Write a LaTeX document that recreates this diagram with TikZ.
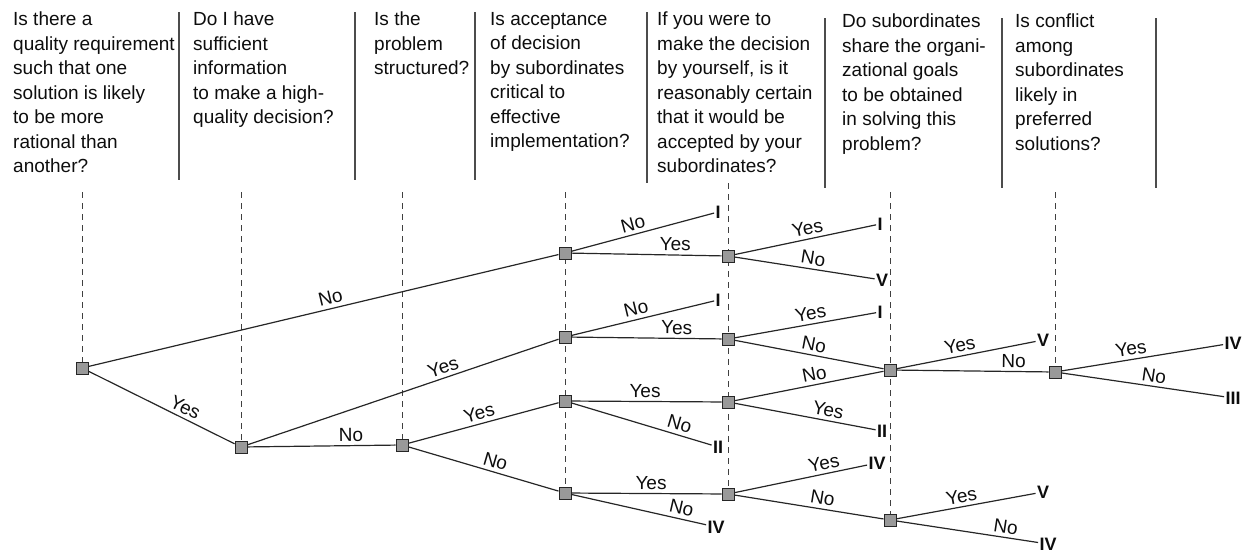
\documentclass[tikz,border=0pt]{standalone}
\usepackage{fontspec}
\setmainfont{Liberation Sans}
\usetikzlibrary{backgrounds}
\begin{document}
\begin{tikzpicture}[x=1pt,y=-1pt,
  dbox/.style={draw=black!85, fill=black!40, minimum size=12pt, inner sep=0pt, line width=1pt},
  leafnum/.style={font=\fontsize{18}{20}\selectfont\bfseries, inner sep=1.2pt, text=black!95},
  elab/.style={font=\fontsize{19}{20}\selectfont, sloped, above=1pt, inner sep=2.5pt, text=black!95},
  con/.style={draw=black!85, line width=1.2pt},
  vguide/.style={draw=black!75, line width=1pt, dash pattern=on 6pt off 5pt},
  colsep/.style={draw=black!70, line width=1.1pt},
  qtext/.style={anchor=north west, align=left, inner sep=0pt, font=\fontsize{19}{24.5}\selectfont, text=black!95}]
\useasboundingbox (0,0) rectangle (1244,554);

% header questions
\node[qtext] (q1) at (13,12) {Is there a\\quality requirement\\such that one\\solution is likely\\to be more\\rational than\\another?};
\node[qtext] (q2) at (193,12) {Do I have\\sufficient\\information\\to make a high-\\quality decision?};
\node[qtext] (q3) at (374,12) {Is the\\problem\\structured?};
\node[qtext] (q4) at (490,12) {Is acceptance\\of decision\\by subordinates\\critical to\\effective\\implementation?};
\node[qtext] (q5) at (657,12) {If you were to\\make the decision\\by yourself, is it\\reasonably certain\\that it would be\\accepted by your\\subordinates?};
\node[qtext] (q6) at (842,14) {Do subordinates\\share the organi-\\zational goals\\to be obtained\\in solving this\\problem?};
\node[qtext] (q7) at (1015,14) {Is conflict\\among\\subordinates\\likely in\\preferred\\solutions?};

% column separators
\draw[colsep] (179,12) -- (179,180);
\draw[colsep] (355,12) -- (355,180);
\draw[colsep] (475,12) -- (475,180);
\draw[colsep] (647,12) -- (647,183);
\draw[colsep] (825,18) -- (825,188);
\draw[colsep] (1002,18) -- (1002,188);
\draw[colsep] (1156,18) -- (1156,188);

% decision nodes
\node[dbox] (A) at (82,368) {};
\node[dbox] (B) at (241,447) {};
\node[dbox] (C) at (402,445) {};
\node[dbox] (D1) at (565,253) {};
\node[dbox] (D2) at (565,337) {};
\node[dbox] (D3) at (565,401) {};
\node[dbox] (D4) at (565,493) {};
\node[dbox] (E1) at (728,256) {};
\node[dbox] (E2) at (728,339) {};
\node[dbox] (E3) at (728,402) {};
\node[dbox] (E4) at (728,494) {};
\node[dbox] (F1) at (890,370) {};
\node[dbox] (F2) at (890,520) {};
\node[dbox] (G) at (1055,372) {};

% outcomes
\node[leafnum] (L1) at (718,212) {I};
\node[leafnum] (L2) at (880,224) {I};
\node[leafnum] (L3) at (882,280) {V};
\node[leafnum] (L4) at (718,300) {I};
\node[leafnum] (L5) at (880,312) {I};
\node[leafnum] (L6) at (882,431) {II};
\node[leafnum] (L7) at (718,447) {II};
\node[leafnum] (L8) at (716,527) {IV};
\node[leafnum] (L9) at (877,463) {IV};
\node[leafnum] (L10) at (1043,340) {V};
\node[leafnum] (L11) at (1233,343) {IV};
\node[leafnum] (L12) at (1233,398) {III};
\node[leafnum] (L13) at (1043,492) {V};
\node[leafnum] (L14) at (1048,544) {IV};

% guides
\coordinate (tA) at (82,192);
\coordinate (tB) at (241,192);
\coordinate (tC) at (402,192);
\coordinate (tD) at (565,192);
\coordinate (tE) at (728,183);
\coordinate (tF) at (890,192);
\coordinate (tG) at (1055,192);
\begin{scope}[on background layer]
\draw[vguide] (tA) -- (A);
\draw[vguide] (tB) -- (B);
\draw[vguide] (tC) -- (C);
\draw[vguide] (tD) -- (D4);
\draw[vguide] (tE) -- (E4);
\draw[vguide] (tF) -- (F2);
\draw[vguide] (tG) -- (G);
\end{scope}

% branches
\draw[con] (A) -- node[elab, pos=0.52] {No} (D1);
\draw[con] (A) -- node[elab, pos=0.63] {Yes} (B);
\draw[con] (B) -- node[elab, pos=0.7] {No} (C);
\draw[con] (B) -- node[elab, pos=0.64] {Yes} (D2);
\draw[con] (C) -- node[elab, pos=0.49] {Yes} (D3);
\draw[con] (C) -- node[elab, pos=0.56] {No} (D4);
\draw[con] (D1) -- node[elab, pos=0.45] {No} (L1);
\draw[con] (D1) -- node[elab, pos=0.69] {Yes} (E1);
\draw[con] (D2) -- node[elab, pos=0.47] {No} (L4);
\draw[con] (D2) -- node[elab, pos=0.7] {Yes} (E2);
\draw[con] (D3) -- node[elab, pos=0.49] {Yes} (E3);
\draw[con] (D3) -- node[elab, pos=0.75] {No} (L7);
\draw[con] (D4) -- node[elab, pos=0.53] {Yes} (E4);
\draw[con] (D4) -- node[elab, pos=0.8] {No} (L8);
\draw[con] (E1) -- node[elab, pos=0.53] {Yes} (L2);
\draw[con] (E1) -- node[elab, pos=0.55] {No} (L3);
\draw[con] (E2) -- node[elab, pos=0.55] {Yes} (L5);
\draw[con] (E2) -- node[elab, pos=0.52] {No} (F1);
\draw[con] (E3) -- node[elab, pos=0.55] {No} (F1);
\draw[con] (E3) -- node[elab, pos=0.65] {Yes} (L6);
\draw[con] (E4) -- node[elab, pos=0.69] {Yes} (L9);
\draw[con] (E4) -- node[elab, pos=0.58] {No} (F2);
\draw[con] (F1) -- node[elab, pos=0.47] {Yes} (L10);
\draw[con] (F1) -- node[elab, pos=0.77] {No} (G);
\draw[con] (G) -- node[elab, pos=0.44] {Yes} (L11);
\draw[con] (G) -- node[elab, pos=0.56] {No} (L12);
\draw[con] (F2) -- node[elab, pos=0.48] {Yes} (L13);
\draw[con] (F2) -- node[elab, pos=0.76] {No} (L14);
\end{tikzpicture}
\end{document}
